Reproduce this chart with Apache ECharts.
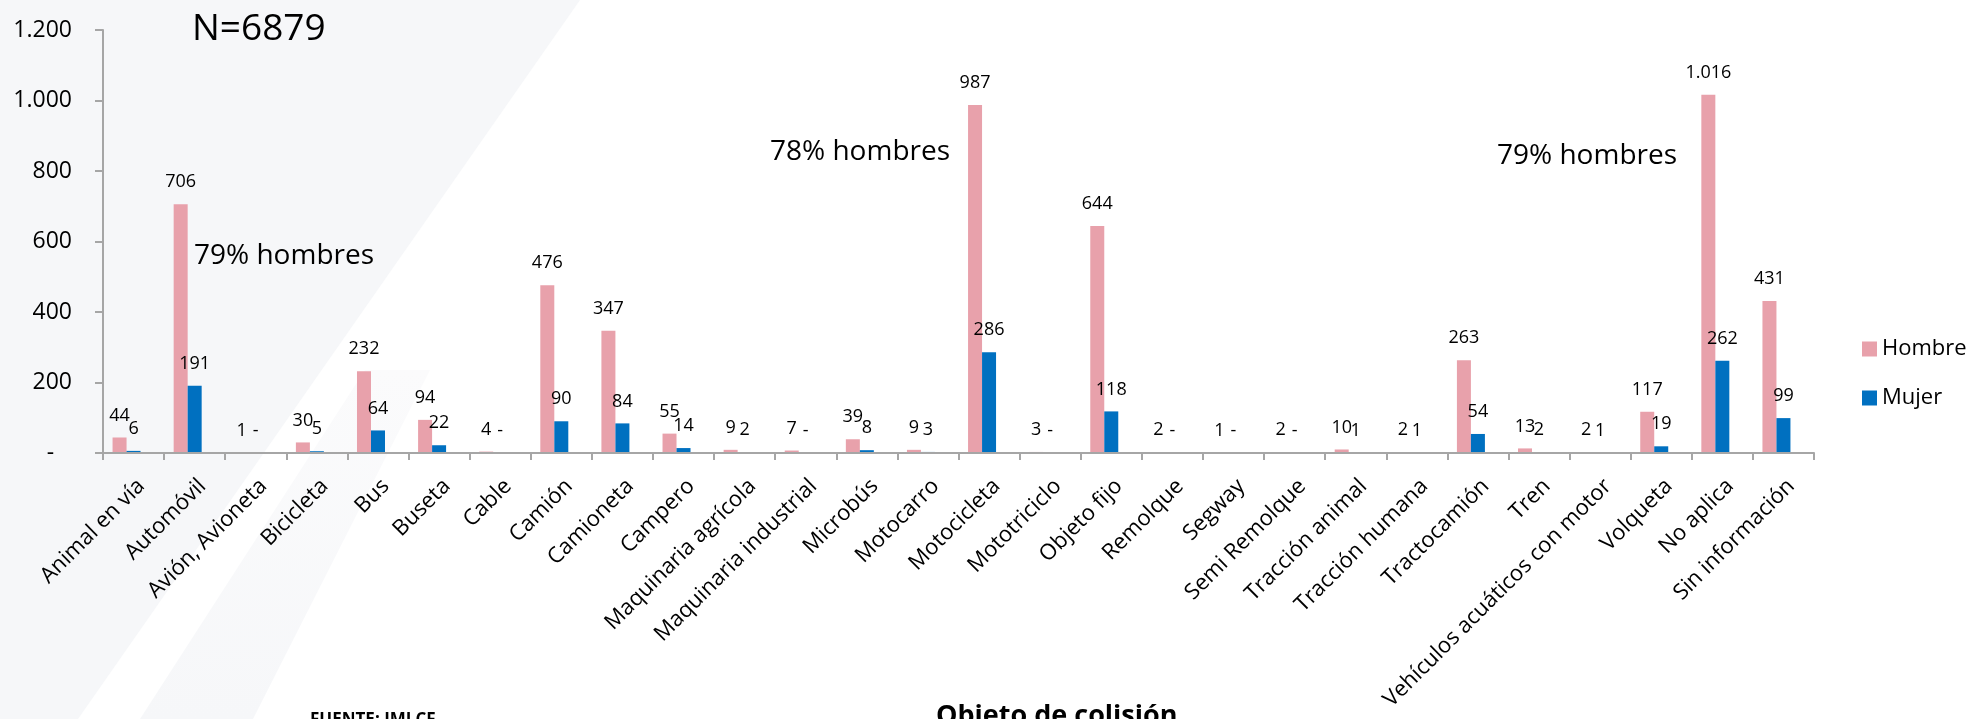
<!DOCTYPE html>
<html>
<head>
<meta charset="utf-8">
<script src="https://cdn.jsdelivr.net/npm/echarts@6/dist/echarts.min.js"></script>
<style>
html,body{margin:0;padding:0;background:#fff;}
#chart{width:1970px;height:719px;}
</style>
</head>
<body>
<div id="chart"></div>
<script>
const categories = ['Animal en vía','Automóvil','Avión, Avioneta','Bicicleta','Bus','Buseta','Cable','Camión','Camioneta','Campero','Maquinaria agrícola','Maquinaria industrial','Microbús','Motocarro','Motocicleta','Mototriciclo','Objeto fijo','Remolque','Segway','Semi Remolque','Tracción animal','Tracción humana','Tractocamión','Tren','Vehículos acuáticos con motor','Volqueta','No aplica','Sin información'];
const hombre = [44,706,1,30,232,94,4,476,347,55,9,7,39,9,987,3,644,2,1,2,10,2,263,13,2,117,1016,431];
const mujer  = [6,191,0,5,64,22,0,90,84,14,2,0,8,3,286,0,118,0,0,0,1,1,54,2,1,19,262,99];
const yMin = 0, yMax = 1200, yStep = 200;
const seriesNames = ['Hombre','Mujer'];
const colors = ['#E8A1AB','#0070C0'];
const annotations = [
  {text:'N=6879', x:192, y:11, size:37},
  {text:'79% hombres', x:194, y:242, size:28},
  {text:'78% hombres', x:770, y:138, size:28},
  {text:'79% hombres', x:1497, y:142, size:28}
];

const FONT = 'Open Sans';
function fmt(v){
  if (v === 0) return '-';
  return String(v).replace(/\B(?=(\d{3})+(?!\d))/g, '.');
}
const axisColor = '#A6A6A6';

const chart = echarts.init(document.getElementById('chart'), null, {renderer:'canvas'});

const labelCfg = {
  show:true, position:'top', distance:13, color:'#000',
  fontSize:18, fontFamily:FONT,
  formatter: p => fmt(p.value)
};

const graphics = [
  {type:'polygon', z:-100, silent:true,
   shape:{points:[[0,0],[580,0],[78,719],[0,719]]},
   style:{fill:'#F6F7F9'}},
  {type:'polygon', z:-100, silent:true,
   shape:{points:[[140,719],[253,719],[430,370],[365,370]]},
   style:{fill:{type:'linear',x:0,y:1,x2:0,y2:0,colorStops:[{offset:0,color:'#F6F7F9'},{offset:1,color:'#FBFBFC'}]}}}
];
annotations.forEach(a => graphics.push({
  type:'text', left:a.x, top:a.y, silent:true,
  style:{text:a.text, font:a.size+'px "'+FONT+'"', fill:'#000'}
}));
graphics.push({type:'text', left:310, top:712, silent:true,
  style:{text:'FUENTE: IMLCF', font:'bold 17px "'+FONT+'"', fill:'#000'}});
graphics.push({type:'text', left:936, top:703, silent:true,
  style:{text:'Objeto de colisión', font:'bold 27px "'+FONT+'"', fill:'#000'}});

const option = {
  backgroundColor:'#fff',
  animation:false,
  textStyle:{fontFamily:FONT},
  graphic: graphics,
  legend:{
    data:seriesNames, orient:'vertical', left:1857, top:333,
    itemWidth:15, itemHeight:15, itemGap:27, icon:'rect',
    textStyle:{fontSize:22, color:'#000', fontFamily:FONT}
  },
  grid:[
    {left:103, right:156, top:30, bottom:266},
    {left:96, right:163, top:30, bottom:266}
  ],
  xAxis:[
    {type:'category', gridIndex:0, data:categories, z:10,
     axisLine:{lineStyle:{color:axisColor, width:2}},
     axisTick:{show:true, length:7, lineStyle:{color:axisColor, width:2}},
     axisLabel:{interval:0, rotate:45, margin:22, fontSize:22, color:'#000', fontFamily:FONT,
       verticalAlign:'top'}},
    {type:'category', gridIndex:1, data:categories, show:false}
  ],
  yAxis:[
    {type:'value', gridIndex:0, min:yMin, max:yMax, interval:yStep, z:10,
     axisLine:{show:true, lineStyle:{color:axisColor, width:2}},
     axisTick:{show:true, length:8, lineStyle:{color:axisColor, width:2}},
     splitLine:{show:false},
     axisLabel:{margin:31, fontSize:23, color:'#000', fontFamily:FONT,
       formatter: v => v === 0 ? '-   ' : fmt(v)}},
    {type:'value', gridIndex:1, min:yMin, max:yMax, interval:yStep, show:false, splitLine:{show:false}}
  ],
  series:[
    {name:seriesNames[0], type:'bar', xAxisIndex:1, yAxisIndex:1, data:hombre, z:2,
     barWidth:14, barGap:'0%', itemStyle:{color:colors[0]}, label:labelCfg},
    {name:seriesNames[1], type:'bar', xAxisIndex:1, yAxisIndex:1, data:mujer, z:2,
     barWidth:14, barGap:'0%', itemStyle:{color:colors[1]}, label:labelCfg}
  ]
};
chart.setOption(option);
</script>
</body>
</html>
